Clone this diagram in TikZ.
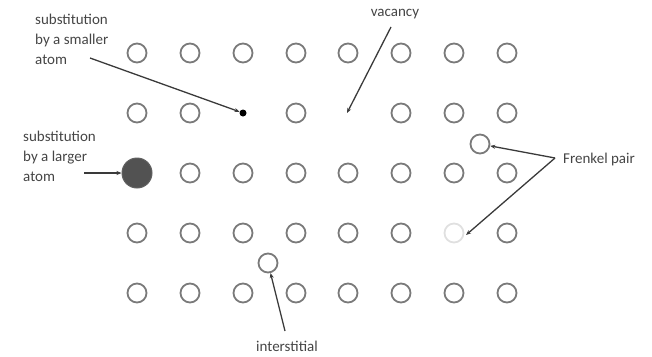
\documentclass[tikz,border=0pt]{standalone}
\usepackage{fontspec}
\setmainfont{Carlito}
\usetikzlibrary{arrows.meta}
\definecolor{ringgray}{HTML}{7A7A7A}
\definecolor{inkgray}{HTML}{3A3A3A}
\definecolor{textgray}{HTML}{454545}
\tikzset{
  atom/.style={circle, draw=ringgray, line width=1.8pt, minimum size=19pt, inner sep=0pt},
  bigatom/.style={circle, fill=black!68, draw=black!62, line width=1pt, minimum size=30pt, inner sep=0pt},
  smallatom/.style={circle, fill=black, minimum size=7pt, inner sep=0pt},
  ghostatom/.style={circle, draw=black!12, line width=1.8pt, minimum size=19pt, inner sep=0pt},
  lbl/.style={font=\fontsize{15}{20}\selectfont, text=textgray, align=left, inner sep=0pt},
  pointer/.style={draw=inkgray, line width=1.3pt, -{Stealth[length=5pt,width=4pt]}}
}
\begin{document}
\begin{tikzpicture}[x=1pt, y=-1pt]
\useasboundingbox (0,0) rectangle (652,356);
% regular lattice sites
\foreach \r/\yy in {1/53,2/113,3/173,4/233,5/293}{
  \foreach \c/\xx in {1/137,2/190,3/243,4/296,5/348,6/401,7/454,8/507}{
    \pgfmathtruncatemacro{\skip}{(\r==2 && (\c==3 || \c==5)) || (\r==3 && \c==1) || (\r==4 && \c==7) ? 1 : 0}
    \ifnum\skip=0
      \node[atom] (s\r\c) at (\xx,\yy) {};
    \fi
  }
}
% defects
\node[smallatom] (small) at (243,113) {};
\coordinate (vac) at (347,113);
\node[bigatom] (big) at (137,173) {};
\node[ghostatom] (empty) at (454,233) {};
\node[atom] (fint) at (480,144) {};
\node[atom] (inter) at (268,263) {};
% labels
\node[lbl, anchor=north west] (lsmall) at (35,14) {substitution\\by a smaller\\atom};
\node[lbl, anchor=north west] (llarge) at (23,131) {substitution\\by a larger\\atom};
\node[lbl, anchor=center] (lvac) at (395,14) {vacancy};
\node[lbl, anchor=west] (lfp) at (563,159) {Frenkel pair};
\node[lbl, anchor=center] (lint) at (287,346) {interstitial};
\coordinate (fpjoin) at (555,158);
\coordinate (sstart) at (90,58);
\coordinate (lstart) at (84,173);
\coordinate (vstart) at (391,27);
\coordinate (istart) at (285,331);
% pointers
\draw[pointer] (sstart) -- (small);
\draw[pointer] (lstart) -- (big);
\draw[pointer] (vstart) -- (vac);
\draw[pointer] (fpjoin) -- (fint);
\draw[pointer] (fpjoin) -- (466,235);
\draw[pointer] (istart) -- (inter);
\end{tikzpicture}
\end{document}
